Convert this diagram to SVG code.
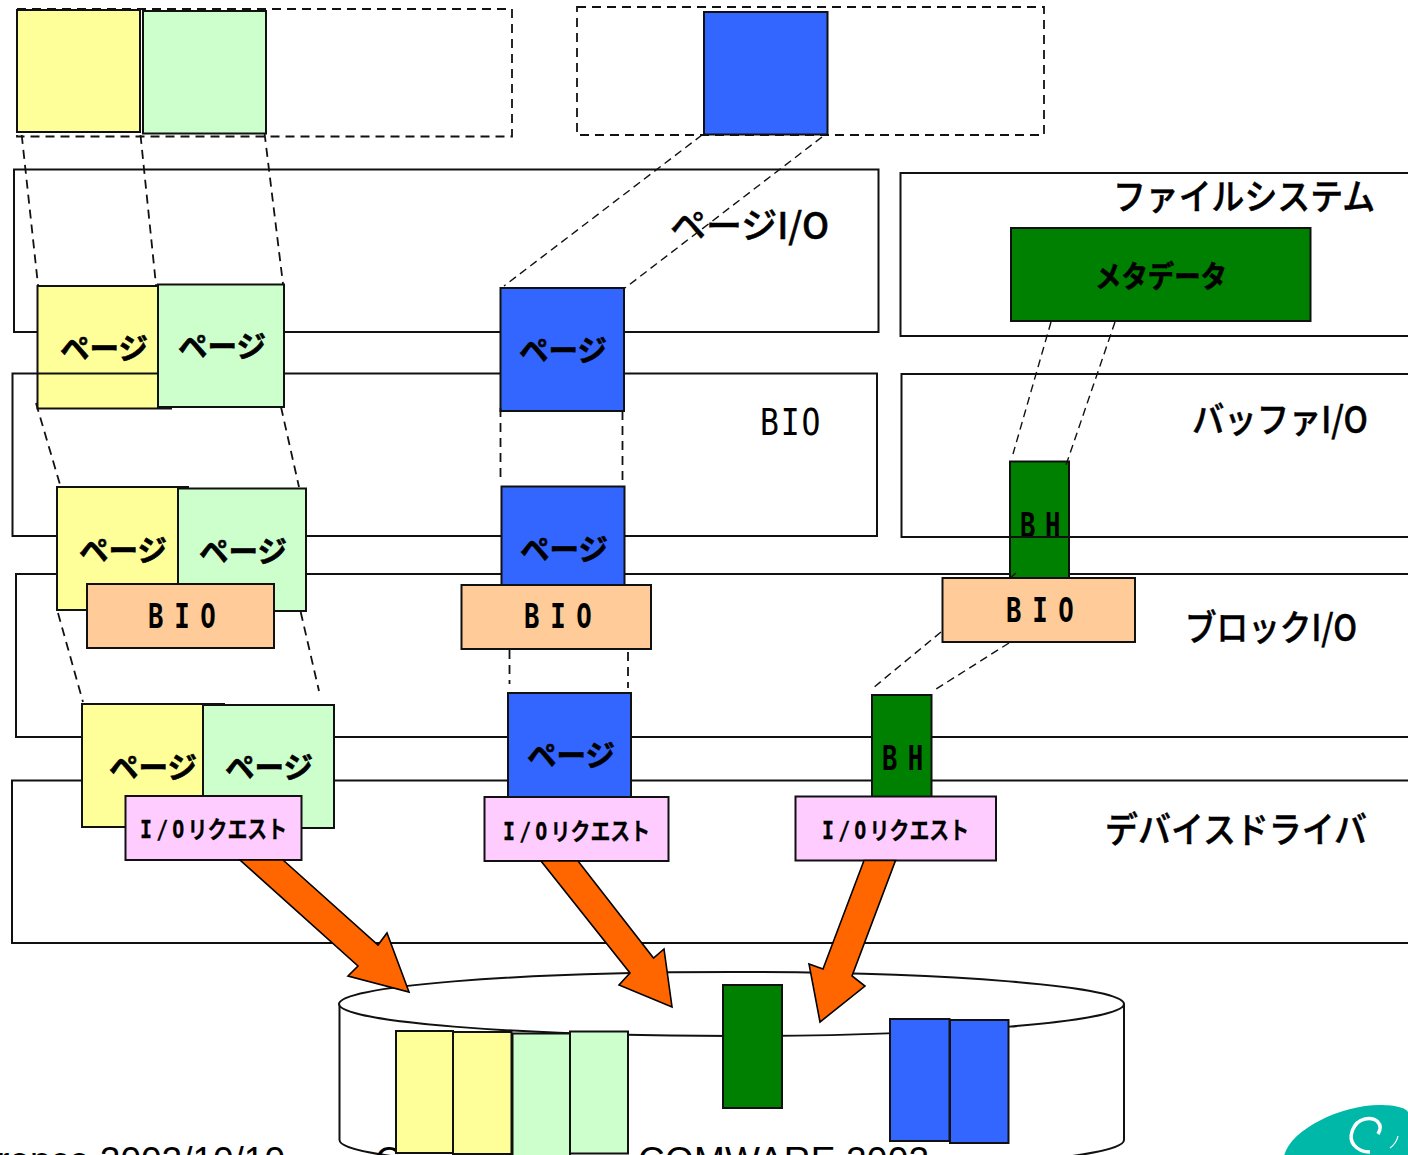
<svg xmlns="http://www.w3.org/2000/svg" width="1408" height="1155" viewBox="0 0 1408 1155">
<style>
text{fill:#000;font-family:"Noto Sans CJK JP","Noto Sans",sans-serif}
.layer{fill:none;stroke:#111;stroke-width:2}
.box{stroke:#111;stroke-width:2}
.y{fill:#FFFF99}.g{fill:#CCFFCC}.b{fill:#3366FF}.d{fill:#008000}.o{fill:#FFCC99}.p{fill:#FFCCFF}
.dash{fill:none;stroke:#111;stroke-width:1.8;stroke-dasharray:9 6}
.thin{stroke-width:1.4;stroke-dasharray:8 5}
.arrow{fill:#FF6600;stroke:#000;stroke-width:1.6;stroke-linejoin:miter}
.lbl{font-size:36px;font-weight:500;stroke:#000;stroke-width:.5}
.pg{font-size:30px;font-weight:700;stroke:#000;stroke-width:.6}
.mono{font-family:"DejaVu Sans Mono","Liberation Mono","Noto Sans CJK JP",monospace;font-weight:700}
.req{font-size:24px;stroke:#000;stroke-width:.3}
.foot{font-family:"Liberation Sans",Arial,sans-serif;font-size:37px}
</style>
<rect width="1408" height="1155" fill="#fff"/>
<g id="dashed-frames">
<rect class="dash" x="17" y="9" width="495" height="127.5"/>
<rect class="dash" x="577" y="7" width="467" height="128"/>
</g>
<g id="layers-back">
<rect id="layer-page-io" class="layer" x="14" y="169.5" width="864.5" height="162.5"/>
<rect id="layer-fs" class="layer" x="900.5" y="173" width="520" height="163"/>
<rect id="layer-block" class="layer" x="16" y="574" width="1410" height="163"/>
<rect id="layer-device" class="layer" x="12" y="780.5" width="1414" height="162.5"/>
</g>
<text class="lbl" x="670" y="239" textLength="159" lengthAdjust="spacingAndGlyphs">ページI/O</text>
<text class="lbl" x="1113" y="210" textLength="262" lengthAdjust="spacingAndGlyphs">ファイルシステム</text>
<text class="lbl" x="1192" y="433" textLength="176" lengthAdjust="spacingAndGlyphs">バッファI/O</text>
<text class="lbl" x="1185" y="641" textLength="172" lengthAdjust="spacingAndGlyphs">ブロックI/O</text>
<text class="lbl" x="1105" y="843" textLength="262" lengthAdjust="spacingAndGlyphs">デバイスドライバ</text>
<text class="mono" style="font-weight:400" transform="translate(760,435) scale(.85,1)" font-size="37" textLength="71">BIO</text>

<g id="file-page-y"><rect class="box y" x="17" y="10" width="123" height="122"/></g>
<g id="file-page-g"><rect class="box g" x="143" y="11" width="123" height="122.5"/></g>
<g id="file-page-b"><rect class="box b" x="704" y="12" width="123.5" height="122.5"/></g>

<g id="pageio-y"><rect class="box y" x="37.5" y="286" width="133.5" height="122.5"/><text class="pg" x="60" y="359" textLength="88" lengthAdjust="spacingAndGlyphs">ページ</text></g>
<rect id="layer-bio" class="layer" x="12.5" y="373.5" width="864.5" height="162.5"/>
<g id="pageio-g"><rect class="box g" x="158" y="284.5" width="126" height="122.5"/><text class="pg" x="178" y="357" textLength="88" lengthAdjust="spacingAndGlyphs">ページ</text></g>
<g id="pageio-b"><rect class="box b" x="500.5" y="288" width="123.5" height="123"/><text class="pg" x="519" y="361" textLength="88" lengthAdjust="spacingAndGlyphs">ページ</text></g>
<g id="metadata"><rect class="box d" x="1011" y="228" width="299.5" height="93"/><text class="pg" x="1095" y="287" textLength="132" lengthAdjust="spacingAndGlyphs">メタデータ</text></g>

<g id="bio-page-y"><rect class="box y" x="57" y="487" width="131" height="123"/><text class="pg" x="79" y="561" textLength="88" lengthAdjust="spacingAndGlyphs">ページ</text></g>
<g id="bio-page-g"><rect class="box g" x="178" y="488.5" width="128" height="122.5"/><text class="pg" x="199" y="562" textLength="88" lengthAdjust="spacingAndGlyphs">ページ</text></g>
<g id="bio-1"><rect class="box o" x="87" y="584" width="187" height="64"/><text class="mono" transform="translate(148,628) scale(.78,1)" font-size="33" textLength="87">BIO</text></g>
<g id="bio-page-b"><rect class="box b" x="501.5" y="486.5" width="123" height="99"/><text class="pg" x="520" y="560" textLength="88" lengthAdjust="spacingAndGlyphs">ページ</text></g>
<g id="bio-2"><rect class="box o" x="461.5" y="585" width="189.5" height="64"/><text class="mono" transform="translate(524,628) scale(.78,1)" font-size="33" textLength="87">BIO</text></g>
<g id="bh-1"><rect class="box d" x="1010" y="461.5" width="59" height="116.5"/><text class="mono" transform="translate(1020,537) scale(.78,1)" font-size="33" textLength="52">BH</text></g>
<rect id="layer-buffer" class="layer" x="901.5" y="374" width="520" height="163"/>
<g id="bio-3"><rect class="box o" x="942.5" y="578" width="192.5" height="64"/><text class="mono" transform="translate(1006,622) scale(.78,1)" font-size="33" textLength="87">BIO</text></g>

<g id="req-page-y"><rect class="box y" x="82" y="704" width="142" height="123"/><text class="pg" x="109" y="778" textLength="88" lengthAdjust="spacingAndGlyphs">ページ</text></g>
<g id="req-page-g"><rect class="box g" x="203" y="705" width="131" height="123"/><text class="pg" x="225" y="778" textLength="88" lengthAdjust="spacingAndGlyphs">ページ</text></g>
<g id="req-1"><rect class="box p" x="125.5" y="796" width="176" height="64"/><text class="mono req" transform="translate(140,838) scale(.83,1)" dx="0 5 5 4">I/Oリクエスト</text></g>
<g id="req-page-b"><rect class="box b" x="508" y="693" width="123" height="104"/><text class="pg" x="527" y="766" textLength="88" lengthAdjust="spacingAndGlyphs">ページ</text></g>
<g id="req-2"><rect class="box p" x="484.5" y="797" width="184" height="64"/><text class="mono req" transform="translate(503,840) scale(.83,1)" dx="0 5 5 4">I/Oリクエスト</text></g>
<g id="bh-2"><rect class="box d" x="872" y="695" width="59.5" height="102"/><text class="mono" transform="translate(882,770) scale(.78,1)" font-size="33" textLength="53">BH</text></g>
<g id="req-3"><rect class="box p" x="795.5" y="796.5" width="200.5" height="64"/><text class="mono req" transform="translate(822,839) scale(.83,1)" dx="0 5 5 4">I/Oリクエスト</text></g>

<g id="disk">
<path d="M339.5,1004 V1140 C339.5,1158 515,1172 731.5,1172 C948,1172 1124,1158 1124,1140 V1004" fill="#fff" stroke="#111" stroke-width="2"/>
<ellipse cx="731.5" cy="1004" rx="392.5" ry="32" fill="#fff" stroke="#111" stroke-width="2"/>
<text class="foot" x="285" y="1173" text-anchor="end">rence 2002/10/10</text>
<text class="foot" x="375" y="1173">C</text>
<text class="foot" x="638" y="1173" textLength="291">COMWARE 2002</text>
<rect class="box y" x="396" y="1031" width="57" height="122"/>
<rect class="box y" x="453" y="1032" width="58.5" height="122"/>
<rect class="box g" x="512.5" y="1033.5" width="57.5" height="125"/>
<rect class="box g" x="570" y="1031.5" width="58" height="122"/>
<rect class="box d" x="723" y="985" width="59" height="123"/>
<rect class="box b" x="890" y="1019" width="59.5" height="122"/>
<rect class="box b" x="950" y="1020" width="58.5" height="123"/>
</g>

<g id="connectors">
<path class="dash" d="M21.7,135 L38,285"/>
<path class="dash" d="M140.5,135 L156,285"/>
<path class="dash" d="M264.5,133 L283,284"/>
<path class="dash thin" d="M702,135 L504,286"/>
<path class="dash thin" d="M822,137 L625,288"/>
<path class="dash" d="M36,403 L60.7,487"/>
<path class="dash" d="M281,407 L299,487"/>
<path class="dash" d="M58,613 L83,702"/>
<path class="dash" d="M300.7,612 L319,691"/>
<path class="dash" d="M500.5,408 V483"/>
<path class="dash" d="M622.5,411 V483"/>
<path class="dash" d="M509.5,650 V684"/>
<path class="dash" d="M628,652 V688"/>
<path class="dash thin" d="M1051,322 L1013,454"/>
<path class="dash thin" d="M1115,322 L1065,468"/>
<path class="dash thin" d="M1016,573 L1010,578"/>
<path class="dash thin" d="M941,632 L873,688"/>
<path class="dash thin" d="M1009,643 L933,691"/>
<polygon class="arrow" points="240,860 283,860 378,945 387,933 409,992 348,976 358,966"/>
<polygon class="arrow" points="541,861 578,861 653.5,958 664,949 672,1007 619,985 630,973"/>
<polygon class="arrow" points="864,860.5 895.5,860.5 852,976 865,986 820,1022 809,964 823,969"/>
</g>

<g id="logo">
<path d="M1284,1156 C1290,1130 1340,1105 1380,1105 C1395,1105 1408,1108 1408,1113 V1156 Z" fill="#00B8A8"/>
<path d="M1378,1134 C1384,1124 1376,1117 1365,1119 C1352,1122 1348,1138 1354,1145 C1358,1150 1364,1152 1370,1152" fill="none" stroke="#fff" stroke-width="3.5"/>
<path d="M1390,1148 C1394,1145 1397,1141 1398,1136" fill="none" stroke="#fff" stroke-width="1.2"/>
</g>
</svg>
